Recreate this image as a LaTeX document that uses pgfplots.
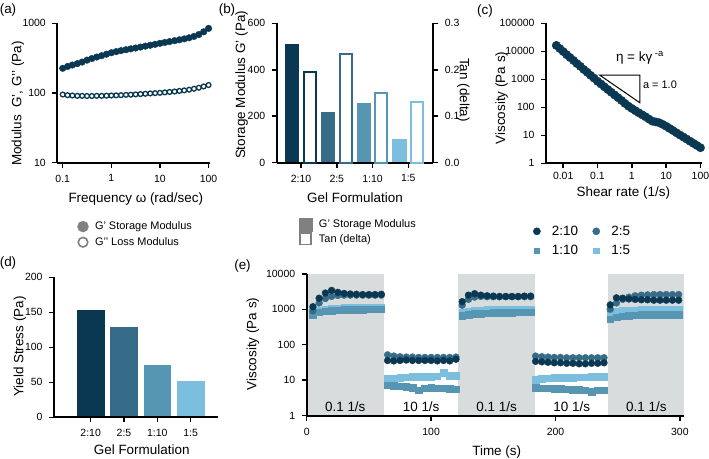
\documentclass[border=0pt]{standalone}
\usepackage{fontspec}
\setmainfont{Liberation Sans}
\usepackage{pgfplots}
\pgfplotsset{compat=1.18}

\definecolor{cA}{RGB}{10,56,82}
\definecolor{cB}{RGB}{54,108,136}
\definecolor{cC}{RGB}{86,150,178}
\definecolor{cD}{RGB}{123,190,222}
\definecolor{shade}{RGB}{217,220,221}
\definecolor{lgrey}{RGB}{128,128,128}

\newcommand{\lab}{\fontsize{13.5}{15}\selectfont}
\newcommand{\leg}{\fontsize{11}{13}\selectfont}

\pgfplotsset{
  gp/.style={
    scale only axis, axis on top, clip=false,
    axis x line*=bottom, axis y line*=left,
    axis line style={line width=1.8bp, black},
    tick style={black, line width=1.5bp},
    major tick length=5bp, tick align=outside,
    xminorticks=false, yminorticks=false,
    tick label style={font=\fontsize{10.5}{12}\selectfont},
    xticklabel shift=3.5bp, yticklabel shift=3bp,
    /pgf/number format/assume math mode=true,
    legend cell align=left,
  },
}

\begin{document}
\begin{tikzpicture}[x=1bp, y=1bp]
\path[use as bounding box] (0,0) rectangle (709,459);

% (a) frequency sweep
\begin{axis}[gp, at={(57.3bp,296.3bp)}, anchor=south west,
  width=152.7bp, height=139.4bp,
  xmode=log, ymode=log, xmin=0.0774, xmax=107, ymin=10, ymax=1000,
  xtick={0.1,1,10,100}, xticklabels={0.1,1,10,100},
  ytick={10,100,1000}, yticklabels={10,100,1000},
  legend style={at={(axis description cs:0.131,-0.416)}, anchor=north west,
    draw=none, fill=none, font=\leg, row sep=4.2bp, inner sep=0pt,
    nodes={inner sep=1bp},
    /tikz/every odd column/.append style={column sep=5.5bp}}]
\addplot[forget plot, only marks, mark=o, mark size=2.4bp,
  mark options={draw=cA, fill=white, line width=1.3bp}] coordinates {
(0.1,95)(0.126,93)(0.158,92)(0.2,91)(0.251,91)(0.316,90.5)(0.398,90.5)(0.501,91)
(0.631,91)(0.794,91.5)(1,92)(1.26,92.5)(1.58,93)(2,94)(2.51,94.5)(3.16,95.5)
(3.98,96.5)(5.01,97.5)(6.31,98.5)(7.94,99.5)(10,100.5)(12.6,102)(15.8,103.5)
(20,105)(25.1,107)(31.6,109)(39.8,111.5)(50.1,115)(63.1,119)(79.4,124)(100,130)};
\addplot[forget plot, only marks, mark=*, mark size=3.3bp, cA] coordinates {
(0.1,226)(0.126,240)(0.158,252)(0.2,264)(0.251,278)(0.316,296)(0.398,312)(0.501,328)
(0.631,343)(0.794,360)(1,378)(1.26,392)(1.58,405)(2,418)(2.51,430)(3.16,442)
(3.98,456)(5.01,470)(6.31,484)(7.94,499)(10,516)(12.6,531)(15.8,547)(20,563)
(25.1,580)(31.6,598)(39.8,620)(50.1,648)(63.1,690)(79.4,755)(100,845)};
\addlegendimage{only marks, mark=*, mark size=5.5bp, lgrey}
\addlegendentry{G’ Storage Modulus}
\addlegendimage{only marks, mark=o, mark size=4.8bp, mark options={line width=1.6bp}, lgrey}
\addlegendentry{G’’ Loss Modulus}
\end{axis}
\node[rotate=90, font=\lab] at (18,355.5) {Modulus\ \ G’, G’’ (Pa)};
\node[font=\lab] at (135.8,259.7) {Frequency ω (rad/sec)};
\node[font=\lab] at (8,449) {(a)};

% (b) storage modulus and tan delta
\begin{axis}[gp, at={(276.7bp,296.3bp)}, anchor=south west,
  width=156.6bp, height=139.4bp,
  xmin=-0.68, xmax=3.70, ymin=0, ymax=600,
  xtick={0,1,2,3}, xticklabels={2:10,2:5,1:10,1:5},
  ytick={0,200,400,600},
  legend style={at={(axis description cs:0.141,-0.395)}, anchor=north west,
    draw=none, fill=none, font=\leg, row sep=2.2bp, inner sep=0pt,
    nodes={inner sep=1bp},
    /tikz/every odd column/.append style={column sep=6bp}}]
\addplot[forget plot, ybar, bar width=0.40, bar shift=0pt, fill=cA, draw=none] coordinates {(-0.245,510)};
\addplot[forget plot, ybar, bar width=0.40, bar shift=0pt, fill=cB, draw=none] coordinates {(0.755,219)};
\addplot[forget plot, ybar, bar width=0.40, bar shift=0pt, fill=cC, draw=none] coordinates {(1.755,259)};
\addplot[forget plot, ybar, bar width=0.40, bar shift=0pt, fill=cD, draw=none] coordinates {(2.755,104)};
\addlegendimage{only marks, mark=square*, mark size=6.5bp, lgrey}
\addlegendentry{G’ Storage Modulus}
\addlegendimage{only marks, mark=square, mark size=5.6bp, mark options={line width=1.6bp}, lgrey}
\addlegendentry{Tan (delta)}
\end{axis}
\begin{axis}[gp, at={(276.7bp,296.3bp)}, anchor=south west,
  width=156.6bp, height=139.4bp,
  axis x line=none, axis y line*=right,
  xmin=-0.68, xmax=3.70, ymin=0, ymax=0.3,
  ytick={0,0.1,0.2,0.3}, yticklabels={0.0,0.1,0.2,0.3},
  ybar, bar width=0.335, bar shift=0pt]
\addplot[fill=white, draw=cA, line width=2bp] coordinates {(0.245,0.195)};
\addplot[fill=white, draw=cB, line width=2bp] coordinates {(1.245,0.233)};
\addplot[fill=white, draw=cC, line width=2bp] coordinates {(2.245,0.149)};
\addplot[fill=white, draw=cD, line width=2bp] coordinates {(3.245,0.131)};
\end{axis}
\node[rotate=90, font=\lab] at (241.7,374) {Storage Modulus G’ (Pa)};
\node[rotate=-90, font=\lab] at (463.3,369) {Tan (delta)};
\node[font=\lab] at (355,261.3) {Gel Formulation};
\node[font=\lab] at (227,449) {(b)};

% (c) flow sweep
\begin{axis}[gp, at={(546bp,295.7bp)}, anchor=south west,
  width=156bp, height=140bp, xticklabel shift=0bp,
  xmode=log, ymode=log, xmin=0.00316, xmax=111, ymin=1, ymax=100000,
  xtick={0.01,0.1,1,10,100}, xticklabels={0.01,0.1,1,10,100},
  ytick={1,10,100,1000,10000,100000},
  yticklabels={1,10,100,1000,10000,100000}]
\addplot[only marks, mark=*, mark size=4.2bp, cA] coordinates {
(0.00631,16200)(0.00794,12600)(0.01,9800)(0.0126,7600)(0.0158,6000)(0.02,4700)
(0.0251,3650)(0.0316,2900)(0.0398,2240)(0.0501,1780)(0.0631,1380)(0.0794,1100)
(0.1,850)(0.126,680)(0.158,540)(0.2,430)(0.251,345)(0.316,275)(0.398,220)
(0.501,175)(0.631,138)(0.794,110)(1,91)(1.26,76)(1.58,64)(2,54)(2.51,46)
(3.16,38)(3.98,32)(5.01,30)(6.31,28)(7.94,24.5)(10,21)(12.6,17.5)(15.8,14.8)
(20,12.3)(25.1,10.3)(31.6,8.7)(39.8,7.3)(50.1,6.1)(63.1,5.1)(79.4,4.3)(100,3.6)};
\draw[line width=1bp] (axis cs:0.117,1400) -- (axis cs:1.72,1400)
  -- (axis cs:1.72,145) -- cycle;
\node[font=\lab] at (axis cs:1.72,5700) {η = kγ\textsuperscript{ -a}};
\node[font=\leg] at (axis cs:6.6,630) {a = 1.0};
\end{axis}
\node[rotate=90, font=\lab] at (501.7,361) {Viscosity (Pa s)};
\node[font=\lab] at (623.3,266) {Shear rate (1/s)};
\node[font=\lab] at (485,448) {(c)};

% (d) yield stress
\begin{axis}[gp, at={(54bp,41.7bp)}, anchor=south west,
  width=164bp, height=140bp,
  xmin=-1.10, xmax=3.82, ymin=0, ymax=200,
  xtick={0,1,2,3}, xticklabels={2:10,2:5,1:10,1:5},
  ytick={0,50,100,150,200},
  ybar, bar width=0.83, bar shift=0pt]
\addplot[fill=cA, draw=none] coordinates {(0,153)};
\addplot[fill=cB, draw=none] coordinates {(1,129)};
\addplot[fill=cC, draw=none] coordinates {(2,75)};
\addplot[fill=cD, draw=none] coordinates {(3,52)};
\end{axis}
\node[rotate=90, font=\lab] at (20,112.3) {Yield Stress (Pa)};
\node[font=\lab] at (141.7,9) {Gel Formulation};
\node[font=\lab] at (8,196) {(d)};

% (e) recovery test
\begin{axis}[gp, at={(306.7bp,43.3bp)}, anchor=south west,
  width=377.3bp, height=141.9bp,
  ymode=log, xmin=0, xmax=303.3, ymin=1, ymax=10000,
  xtick={0,100,200,300}, xticklabels={0,100,200,300},
  ytick={1,10,100,1000,10000}, yticklabels={1,10,100,1000,10000},
  legend columns=2,
  legend style={at={(axis description cs:0.600,1.346)}, anchor=north west,
    draw=none, fill=none, font=\lab, row sep=6.6bp, inner sep=0pt,
    nodes={inner sep=1bp},
    /tikz/every odd column/.append style={column sep=10.5bp},
    /tikz/every even column/.append style={column sep=13.5bp}}]
\addplot[forget plot, fill=shade, draw=none] coordinates {(0,1)(0,10000)(62.5,10000)(62.5,1)} -- cycle;
\addplot[forget plot, fill=shade, draw=none] coordinates {(122,1)(122,10000)(183.5,10000)(183.5,1)} -- cycle;
\addplot[forget plot, fill=shade, draw=none] coordinates {(242.5,1)(242.5,10000)(303.3,10000)(303.3,1)} -- cycle;
\addplot[forget plot, only marks, mark=square*, mark size=3.3bp, cD] coordinates {
(5,850)(10,950)(15,1000)(20,1050)(25,1080)(30,1100)(35,1100)(40,1100)(45,1100)(50,1100)(55,1100)(60,1100)
(65,11)(70,11.5)(75,12)(80,12.3)(85,12.5)(90,12.5)(95,12.6)(100,12.8)(105,13)(110,16)(115,13.5)(120,13.5)
(125,800)(130,880)(135,920)(140,950)(145,960)(150,970)(155,980)(160,980)(165,990)(170,990)(175,1000)(180,1000)
(184,10.5)(189,11)(194,11.3)(199,11.6)(204,11.8)(209,12)(214,12)(219,12.2)(224,12.3)(229,12.4)(234,12.4)(239,12.5)
(244,750)(249,850)(254,900)(259,930)(264,950)(269,970)(274,980)(279,990)(284,1000)(289,1000)(294,1000)(299,1000)};
\addplot[forget plot, only marks, mark=square*, mark size=3.3bp, cC] coordinates {
(5,700)(10,820)(15,880)(20,920)(25,950)(30,960)(35,970)(40,980)(45,990)(50,1000)(55,1000)(60,1000)
(65,7.2)(70,7.0)(75,6.7)(80,6.5)(85,6.2)(90,5.2)(95,6.0)(100,6.2)(105,6.0)(110,5.9)(115,5.7)(120,5.6)
(125,650)(130,700)(135,740)(140,760)(145,780)(150,790)(155,800)(160,810)(165,810)(170,820)(175,820)(180,820)
(184,6.2)(189,6.0)(194,5.9)(199,5.8)(204,5.7)(209,5.6)(214,5.5)(219,5.4)(224,5.3)(229,4.8)(234,5.2)(239,5.3)
(244,520)(249,600)(254,640)(259,660)(264,680)(269,690)(274,700)(279,700)(284,710)(289,710)(294,710)(299,710)};
\addplot[forget plot, only marks, mark=*, mark size=3.4bp, cB] coordinates {
(5,900)(10,1500)(15,2000)(20,2300)(25,2450)(30,2500)(35,2500)(40,2500)(45,2500)(50,2500)(55,2500)(60,2500)
(65,52)(70,48)(75,46)(80,45)(85,45)(90,44)(95,44)(100,44)(105,44)(110,44)(115,44)(120,45)
(125,1300)(130,1900)(135,2200)(140,2300)(145,2250)(150,2250)(155,2250)(160,2250)(165,2250)(170,2250)(175,2250)(180,2250)
(184,48)(189,46)(194,45)(199,44)(204,44)(209,43)(214,43)(219,43)(224,43)(229,43)(234,43)(239,43)
(244,1000)(249,1500)(254,1900)(259,2200)(264,2400)(269,2500)(274,2550)(279,2600)(284,2600)(289,2600)(294,2600)(299,2600)};
\addplot[forget plot, only marks, mark=*, mark size=3.4bp, cA] coordinates {
(5,1180)(10,2050)(15,2870)(20,3400)(25,3000)(30,2800)(35,2700)(40,2650)(45,2600)(50,2600)(55,2600)(60,2650)
(65,36)(70,35)(75,36)(80,37)(85,36)(90,36)(95,36)(100,36)(105,35)(110,36)(115,35)(120,39)
(125,1640)(130,2500)(135,2750)(140,2500)(145,2400)(150,2350)(155,2300)(160,2300)(165,2300)(170,2300)(175,2350)(180,2350)
(184,34)(189,33)(194,32)(199,31)(204,31)(209,30)(214,30)(219,29)(224,29)(229,30)(234,30)(239,31)
(244,1330)(249,2100)(254,2050)(259,1950)(264,1900)(269,1850)(274,1850)(279,1800)(284,1800)(289,1800)(294,1800)(299,1800)};
\node[font=\lab] at (axis cs:31,1.75) {0.1 1/s};
\node[font=\lab] at (axis cs:92,1.75) {10 1/s};
\node[font=\lab] at (axis cs:152.7,1.75) {0.1 1/s};
\node[font=\lab] at (axis cs:213,1.75) {10 1/s};
\node[font=\lab] at (axis cs:273,1.75) {0.1 1/s};
\addlegendimage{only marks, mark=*, mark size=3.6bp, cA}
\addlegendentry{2:10}
\addlegendimage{only marks, mark=*, mark size=3.6bp, cB}
\addlegendentry{2:5}
\addlegendimage{only marks, mark=square*, mark size=2.8bp, cC}
\addlegendentry{1:10}
\addlegendimage{only marks, mark=square*, mark size=2.8bp, cD}
\addlegendentry{1:5}
\end{axis}
\node[rotate=90, font=\lab] at (253,115) {Viscosity (Pa s)};
\node[font=\lab] at (496.7,7.3) {Time (s)};
\node[font=\lab] at (242.5,193.2) {(e)};
\end{tikzpicture}
\end{document}
